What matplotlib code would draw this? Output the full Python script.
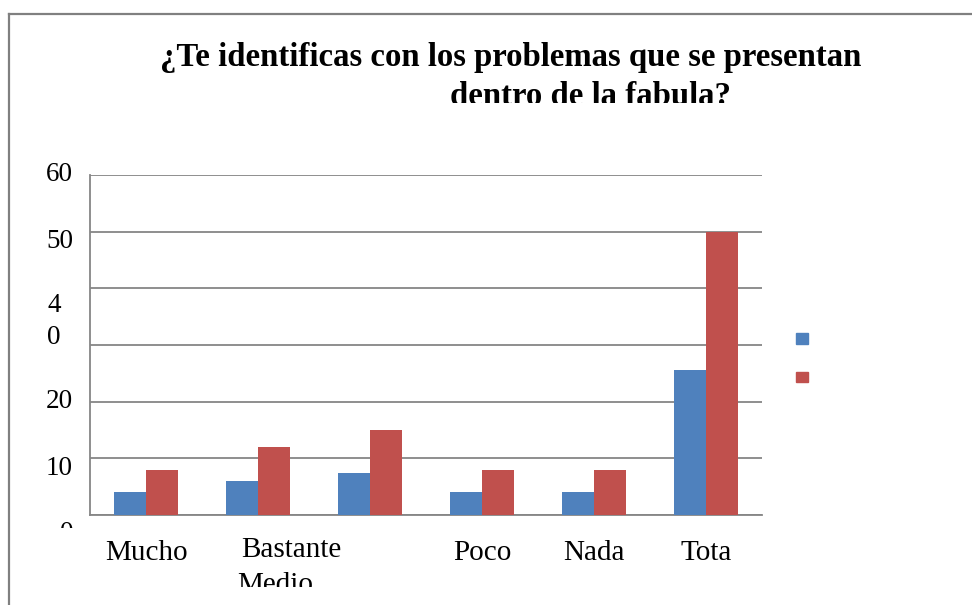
import matplotlib
matplotlib.use("Agg")
import matplotlib.pyplot as plt
import numpy as np
from matplotlib.lines import Line2D
from matplotlib.patches import Patch
from matplotlib.transforms import Bbox, TransformedBbox, blended_transform_factory

categories = ["Mucho", "Bastante", "Medio", "Poco", "Nada", "Total"]
tick_text = ["Mucho", "", "", "Poco", "Nada", "Tota"]
serie_azul = [4, 6, 7.5, 4, 4, 25.5]
serie_roja = [8, 12, 15, 8, 8, 50]
y_ticks = [0, 10, 20, 30, 40, 50, 60]

W, H = 972, 605
AZUL = "#4F81BD"
ROJO = "#C0504D"
GRIS = "#868686"

plt.rcParams["font.family"] = ["Liberation Serif", "DejaVu Serif"]

fig = plt.figure(figsize=(W / 100, H / 100), dpi=100)
fig.patch.set_facecolor("white")


def px(x, y):
    # pixel (from top-left) -> figure fraction
    return x / W, 1 - y / H


def clip_below(artist, ypix):
    # keep only what lies above pixel row ypix
    bb = Bbox.from_extents(0, 1 - ypix / H, 1, 1)
    artist.set_clip_box(TransformedBbox(bb, fig.transFigure))


# outer frame of the chart (cut at right and bottom)
fig.add_artist(Line2D([9 / W, 1.01], [1 - 14 / H] * 2, color="#808080", lw=1.6,
                      transform=fig.transFigure))
fig.add_artist(Line2D([9 / W] * 2, [-0.01, 1 - 14 / H], color="#808080", lw=1.6,
                      transform=fig.transFigure))

# title, two lines, the second one cut at the bottom
t1 = fig.text(*px(511, 66), "¿Te identificas con los problemas que se presentan",
              ha="center", va="baseline", fontsize=23.6, fontweight="bold")
t2 = fig.text(*px(590, 105), "dentro de la fabula?",
              ha="center", va="baseline", fontsize=23.6, fontweight="bold")
clip_below(t2, 103)

x0, y0 = px(90, 515)
x1, y1 = px(762, 175)
ax = fig.add_axes([x0, y0, x1 - x0, y1 - y0])

x = np.arange(len(categories))
bw = 1 / 3.5
ax.bar(x - bw / 2, serie_azul, bw, color=AZUL, zorder=3)
ax.bar(x + bw / 2, serie_roja, bw, color=ROJO, zorder=3)

ax.set_xlim(-0.5, len(categories) - 0.5)
ax.set_ylim(0, 60)
ax.set_yticks(y_ticks)
ax.yaxis.grid(True, color=GRIS, lw=1.3)
ax.set_axisbelow(True)
for s in ["top", "right"]:
    ax.spines[s].set_visible(False)
ax.spines["left"].set_color(GRIS)
ax.spines["bottom"].set_color(GRIS)
ax.spines["left"].set_linewidth(1.3)
ax.spines["bottom"].set_linewidth(1.3)
ax.tick_params(length=0)

# y labels (the source render is garbled: "4" / "0" split, lowest 0 cut off)
ytrans = blended_transform_factory(fig.transFigure, ax.transData)
ax.set_yticklabels([])
y_fs = 19.5
for v, lab, shift in [(10, "10", -1.8), (20, "20", 0), (50, "50", -1.8), (60, "60", 0)]:
    fig.text(73 / W, v + shift, lab, transform=ytrans, ha="right", va="center",
             fontsize=y_fs)
t0 = fig.text(73 / W, -4.4, "0", transform=ytrans, ha="right", va="baseline",
              fontsize=y_fs)
clip_below(t0, 528)
for v, lab in [(37.0, "4"), (31.4, "0")]:
    fig.text(47 / W, v, lab, transform=ytrans, ha="left", va="center", fontsize=y_fs)

# x labels
ax.set_xticks(x)
ax.set_xticklabels(tick_text, fontsize=21)
ax.tick_params(axis="x", pad=18)
xtrans = blended_transform_factory(ax.transData, fig.transFigure)
fig.text(1.3, 1 - 557 / H, "Bastante", transform=xtrans, ha="center", va="baseline",
         fontsize=21)
tm = fig.text(1.15, 1 - 592 / H, "Medio", transform=xtrans, ha="center", va="baseline",
              fontsize=21)
clip_below(tm, 587)

# legend with no text, only the two squares
handles = [Patch(color=AZUL), Patch(color=ROJO)]
fig.legend(handles, [" ", " "], loc="upper left", bbox_to_anchor=px(796, 333),
           frameon=False, fontsize=8.6, handlelength=1, handleheight=1,
           labelspacing=2.2, borderpad=0, borderaxespad=0, handletextpad=0.5)

fig.savefig("out.png", dpi=100)
